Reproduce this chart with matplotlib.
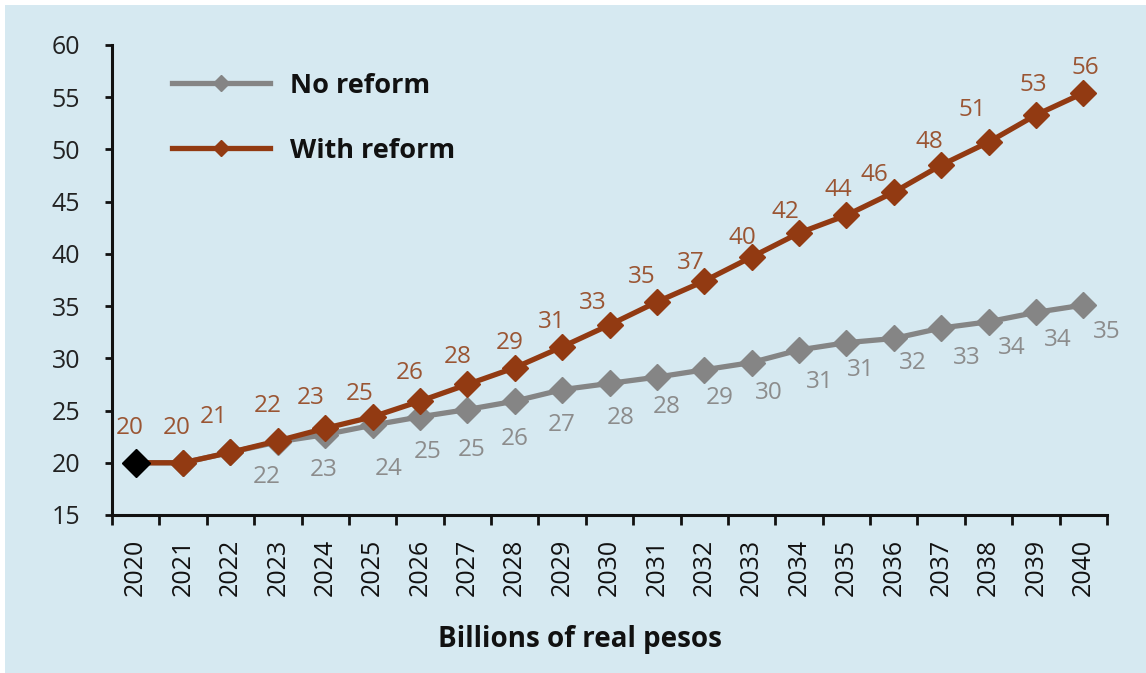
import matplotlib
matplotlib.use("Agg")
import matplotlib.pyplot as plt
from matplotlib.lines import Line2D
from matplotlib.patches import Rectangle
import numpy as np

years = [str(y) for y in range(2020, 2041)]
no_reform = [20.0, 20.0, 21.0, 22.0, 22.7, 23.6, 24.4, 25.1, 25.9, 27.0, 27.6,
             28.2, 28.9, 29.6, 30.8, 31.5, 31.9, 32.9, 33.5, 34.4, 35.1]
with_reform = [20.0, 20.0, 21.0, 22.1, 23.3, 24.4, 25.9, 27.5, 29.1, 31.1, 33.2,
               35.4, 37.4, 39.7, 42.0, 43.7, 45.9, 48.5, 50.7, 53.3, 55.4]
with_labels = [20, 20, 21, 22, 23, 25, 26, 28, 29, 31, 33, 35, 37, 40, 42, 44, 46, 48, 51, 53, 56]
no_labels = [None, None, None, 22, 23, 24, 25, 25, 26, 27, 28, 28, 29, 30, 31, 31, 32, 33, 34, 34, 35]
yticks = [15, 20, 25, 30, 35, 40, 45, 50, 55, 60]

BG = "#d6e9f1"
BROWN = "#923a12"
GREY = "#858585"
BROWN_TXT = "#9a5533"
GREY_TXT = "#8c8c8c"
FONT = "Open Sans"

fig = plt.figure(figsize=(11.46, 6.73), dpi=100, facecolor="white")
fig.patches.append(Rectangle((5/1146, 0), 1 - 5/1146, 1 - 5/673, transform=fig.transFigure,
                             facecolor=BG, edgecolor="none", zorder=-10))
ax = fig.add_axes([112/1146, 1 - 515/673, (1107-112)/1146, (515-45)/673])
ax.set_facecolor("none")

x = np.arange(len(years))
ax.plot(x, no_reform, color=GREY, lw=3.8, marker="D", ms=13, mfc=GREY, mec=GREY, zorder=3)
ax.plot(x, with_reform, color=BROWN, lw=3.8, marker="D", ms=13, mfc=BROWN, mec=BROWN, zorder=4)
ax.plot(x[:1], with_reform[:1], ls="none", marker="D", ms=14, color="black", zorder=5)

# data label offsets (pixels): brown above, grey below
w_off = [(-6, 35), (-6, 35), (-17, 35), (-10, 35), (-15, 30), (-13, 23), (-10, 28), (-10, 27),
         (-5, 25), (-10, 25), (-17, 22), (-15, 25), (-13, 18), (-9, 19), (-14, 21), (-8, 25),
         (-19, 17), (-12, 23), (-16, 32), (-3, 30), (2, 25)]
n_off = [None, None, None, (-11, -35), (-2, -35), (16, -44), (8, -35), (4, -40), (0, -38),
         (0, -35), (11, -35), (10, -30), (15, -28), (17, -30), (21, -32), (14, -27),
         (19, -25), (26, -30), (23, -26), (22, -28), (23, -27)]
for i, lab in enumerate(with_labels):
    dx, dy = w_off[i]
    ax.annotate(str(lab), (x[i], with_reform[i]), xytext=(dx, dy), textcoords="offset pixels",
                ha="center", va="center", fontsize=17.5, color=BROWN_TXT, family=FONT, zorder=6)
for i, lab in enumerate(no_labels):
    if lab is None:
        continue
    dx, dy = n_off[i]
    ax.annotate(str(lab), (x[i], no_reform[i]), xytext=(dx, dy), textcoords="offset pixels",
                ha="center", va="center", fontsize=17.5, color=GREY_TXT, family=FONT, zorder=6)

ax.set_xlim(-0.5, len(years) - 0.5)
ax.set_ylim(15, 60)
ax.set_yticks(yticks)
ax.set_yticklabels([str(t) for t in yticks], fontsize=18, family=FONT, color="#222222")
ax.set_xticks(x)
ax.set_xticklabels(years, rotation=90, fontsize=18, family=FONT, color="#111111")
ax.set_xticks(np.arange(-0.5, len(years)), minor=True)
ax.tick_params(axis="x", which="major", length=0, pad=17)
ax.tick_params(axis="x", which="minor", length=7, width=2, direction="out", color="#111111")
ax.tick_params(axis="y", length=5, width=2, direction="out", color="#111111", pad=18)
for side in ("top", "right"):
    ax.spines[side].set_visible(False)
for side in ("left", "bottom"):
    ax.spines[side].set_linewidth(2.2)
    ax.spines[side].set_color("#111111")

handles = [Line2D([], [], color=GREY, lw=3.8, marker="D", ms=8),
           Line2D([], [], color=BROWN, lw=3.8, marker="D", ms=8)]
leg = ax.legend(handles, ["No reform", "With reform"], loc="upper left",
                bbox_to_anchor=(0.036, 0.993), frameon=False, handlelength=3.6,
                handletextpad=0.75, labelspacing=1.45, numpoints=1,
                prop={"family": FONT, "weight": "bold", "size": 19.5})
for t in leg.get_texts():
    t.set_color("#111111")

fig.text(580/1146, 1 - 640/673, "Billions of real pesos", ha="center", va="center",
         fontsize=20, fontweight="bold", family=FONT, color="#111111")

fig.savefig("out.png", dpi=100, facecolor=fig.get_facecolor())
